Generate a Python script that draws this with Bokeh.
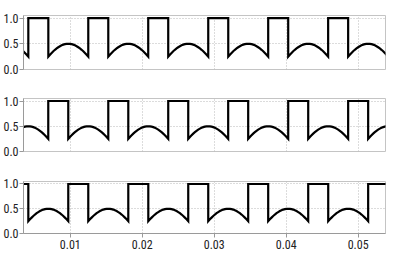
from bokeh.plotting import figure
from bokeh.layouts import column
from bokeh.models import Range1d, FixedTicker, PrintfTickFormatter
from bokeh.embed import file_html
from bokeh.resources import INLINE

# ---- data ----
x_ticks = [0.01, 0.02, 0.03, 0.04, 0.05]
y_ticks = [0.0, 0.5, 1.0]
x_view = [0.0035, 0.0538]
y_view = [0.0, 1.05]

# rise times of the 1.0 pulses in each panel (s)
rise_1 = [-0.00417, 0.00417, 0.01250, 0.02083, 0.02917, 0.03750, 0.04583, 0.05417]
rise_2 = [-0.00139, 0.00694, 0.01528, 0.02361, 0.03194, 0.04028, 0.04861, 0.05694]
rise_3 = [0.00139, 0.00972, 0.01806, 0.02639, 0.03472, 0.04306, 0.05139]
pulse_width = 0.00278
pulse_level = 1.0
# arch between pulses (evenly spaced samples from fall to next rise)
arch = [0.250, 0.287, 0.321, 0.354, 0.383, 0.410, 0.433, 0.453, 0.470, 0.483,
        0.492, 0.498, 0.500, 0.498, 0.492, 0.483, 0.470, 0.453, 0.433, 0.410,
        0.383, 0.354, 0.321, 0.287, 0.250]


def build(rises):
    xs, ys = [], []
    n = len(arch) - 1
    for i, r in enumerate(rises):
        f = r + pulse_width
        xs += [r, r, f, f]
        ys += [arch[-1], pulse_level, pulse_level, arch[0]]
        if i + 1 < len(rises):
            nxt = rises[i + 1]
            for k in range(1, n):
                xs.append(f + (nxt - f) * k / n)
                ys.append(arch[k])
        else:
            span = rises[1] - rises[0] - pulse_width
            for k in range(1, n + 1):
                xs.append(f + span * k / n)
                ys.append(arch[k])
    return xs, ys


FONT = "Roboto Condensed"
x_range = Range1d(*x_view)

panels = [rise_1, rise_2, rise_3]
heights = [84, 83, 84]
tops = [15, 14, 14]
bottoms = [15, 16, 18]
figs = []
for idx, rises in enumerate(panels):
    last = idx == len(panels) - 1
    p = figure(width=393, height=heights[idx], x_range=x_range,
               y_range=Range1d(*y_view), output_backend="svg",
               toolbar_location=None, min_border_left=18, min_border_right=8,
               min_border_top=tops[idx], min_border_bottom=bottoms[idx])
    xs, ys = build(rises)
    p.line(xs, ys, line_color="black", line_width=2.2, line_join="miter")

    p.outline_line_color = "#c4c4c4"
    p.outline_line_width = 1
    p.background_fill_color = "white"
    p.border_fill_color = "white"

    p.yaxis.ticker = FixedTicker(ticks=y_ticks)
    p.yaxis.formatter = PrintfTickFormatter(format="%.1f")
    p.xaxis.ticker = FixedTicker(ticks=x_ticks)
    p.xaxis.formatter = PrintfTickFormatter(format="%.2f")
    for ax in [p.yaxis[0], p.xaxis[0]]:
        ax.axis_line_color = "#9a9a9a"
        ax.major_tick_line_color = "#9a9a9a"
        ax.major_tick_in = 0
        ax.major_tick_out = 4
        ax.minor_tick_line_color = None
        ax.major_label_text_font = FONT
        ax.major_label_text_font_size = "12px"
        ax.major_label_text_color = "#222222"
    p.yaxis.major_label_standoff = 1
    p.xaxis.major_label_standoff = 2
    p.xaxis.major_tick_out = 4
    p.xaxis.visible = last

    p.xgrid.ticker = FixedTicker(ticks=x_ticks)
    p.ygrid.ticker = FixedTicker(ticks=[0.5, 1.0])
    for g in [p.xgrid[0], p.ygrid[0]]:
        g.grid_line_color = "#b8b8b8"
        g.grid_line_dash = "1 2"
        g.grid_line_width = 1
    figs.append(p)

layout = column(*figs, spacing=0)
open("out.html", "w").write(file_html(layout, INLINE))
